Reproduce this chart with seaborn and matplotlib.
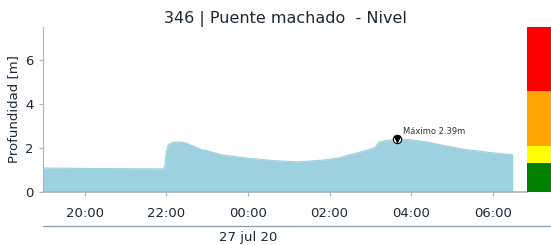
import pandas as pd
import matplotlib
matplotlib.use("Agg")
from matplotlib import pyplot as plt
import matplotlib.dates as mdates
from matplotlib.lines import Line2D
import seaborn as sns

# lecturas de nivel (hora, metros)
horas = ['2020-07-26 18:59', '2020-07-26 20:00', '2020-07-26 21:00', '2020-07-26 21:56',
         '2020-07-26 21:58', '2020-07-26 22:00', '2020-07-26 22:03', '2020-07-26 22:10',
         '2020-07-26 22:20', '2020-07-26 22:30', '2020-07-26 22:35', '2020-07-26 22:40',
         '2020-07-26 22:52', '2020-07-26 23:00', '2020-07-26 23:21', '2020-07-27 00:00',
         '2020-07-27 00:37', '2020-07-27 01:14', '2020-07-27 01:53', '2020-07-27 02:00',
         '2020-07-27 02:15', '2020-07-27 02:29', '2020-07-27 02:44', '2020-07-27 03:04',
         '2020-07-27 03:08', '2020-07-27 03:12', '2020-07-27 03:20', '2020-07-27 03:39',
         '2020-07-27 03:59', '2020-07-27 04:23', '2020-07-27 04:42', '2020-07-27 05:16',
         '2020-07-27 05:55', '2020-07-27 06:29']
nivel = [1.08, 1.06, 1.05, 1.04,
         1.20, 1.80, 2.15, 2.25,
         2.27, 2.22, 2.13, 2.08,
         1.91, 1.87, 1.68, 1.53,
         1.42, 1.36, 1.45, 1.48,
         1.55, 1.68, 1.80, 1.98,
         2.05, 2.25, 2.32, 2.39,
         2.37, 2.27, 2.14, 1.94,
         1.79, 1.68]

# umbrales de alerta
umbral_tope = [1.3, 2.1, 4.6, 7.5]
umbral_color = ['#008000', '#ffff00', '#ffa500', '#ff0000']

df = pd.DataFrame({'fecha': pd.to_datetime(horas), 'nivel': nivel})
imax = df['nivel'].idxmax()

sns.set_style('white')
plt.rcParams['font.family'] = ['DejaVu Sans']
texto = '#1c2833'
gris = '#aab4be'

fig = plt.figure(figsize=(5.51, 2.45), dpi=100)
ax = fig.add_axes([0.078, 0.2176, 0.8785, 0.671])
ax_c = fig.add_axes([0.9565, 0.2176, 0.0435, 0.671])

azul = '#9dd1df'
sns.lineplot(data=df, x='fecha', y='nivel', ax=ax, color=azul, linewidth=0.8)
ax.fill_between(df['fecha'], 0, df['nivel'], color=azul, linewidth=0)

# maximo
fx = mdates.date2num(df.loc[imax, 'fecha'])
fy = df.loc[imax, 'nivel']
ax.plot([fx], [fy], marker='o', markersize=6, markerfacecolor='white',
        markeredgecolor='black', markeredgewidth=0.8, zorder=5)
ax.plot([fx], [fy], marker='v', markersize=3.8, color='black', zorder=6)
ax.annotate(f'Máximo {fy:.2f}m', xy=(fx, fy), xytext=(4, 4), textcoords='offset points',
            fontsize=6, color='#333333')

ax.set_xlim(pd.Timestamp('2020-07-26 18:59'), pd.Timestamp('2020-07-27 06:50'))
ax.set_ylim(0, 7.5)
ax.set_yticks([0, 2, 4, 6])
ax.xaxis.set_major_locator(mdates.HourLocator(byhour=range(0, 24, 2)))
ax.xaxis.set_major_formatter(mdates.DateFormatter('%H:%M'))
ax.set_xlabel('')
ax.set_ylabel('Profundidad [m]', fontsize=9.5, color=texto)
ax.tick_params(axis='both', labelsize=9.5, labelcolor=texto, color=gris,
               length=3, width=0.8, bottom=True, left=True)
ax.tick_params(axis='x', pad=8)
for s in ['top', 'right']:
    ax.spines[s].set_visible(False)
ax.spines['bottom'].set_color(gris)
ax.spines['left'].set_color(gris)
ax.spines['left'].set_linewidth(0.8)
ax.spines['bottom'].set_linewidth(1.2)

ax.set_title('346 | Puente machado  - Nivel', fontsize=11.5, color=texto, pad=3)

# fecha del dia
medianoche = mdates.date2num(pd.Timestamp('2020-07-27 00:00'))
ax.annotate('27 jul 20', xy=(medianoche, 0),
            xycoords=ax.get_xaxis_transform(), xytext=(0, -33),
            textcoords='offset points', ha='center', va='center',
            fontsize=9.5, color=texto)
fig.add_artist(Line2D([0.078, 1.0], [0.078, 0.078], color='#8a98a6', linewidth=0.9))

# barra de umbrales
bases = [0] + umbral_tope[:-1]
alturas = [t - b for t, b in zip(umbral_tope, bases)]
ax_c.bar([0] * 4, alturas, bottom=bases, color=umbral_color, width=1.0, linewidth=0)
ax_c.set_xlim(-0.5, 0.5)
ax_c.set_ylim(0, 7.5)
ax_c.axis('off')

fig.savefig('out.png', dpi=100)
